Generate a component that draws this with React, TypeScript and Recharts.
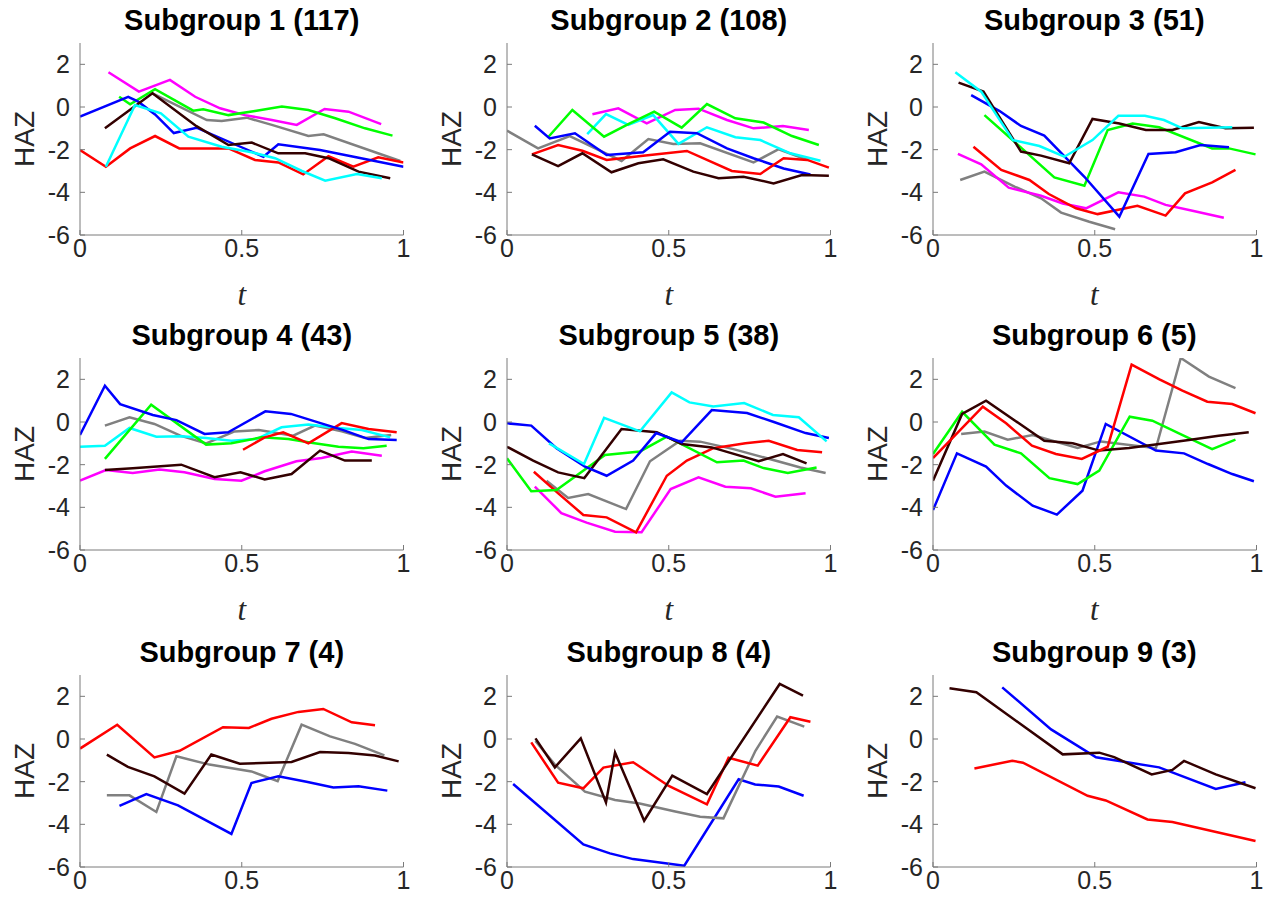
import React from 'react';
import { LineChart, Line, XAxis, YAxis } from 'recharts';

// t grid is 0..1, HAZ range -6..3
const xTicks = [0, 0.5, 1];
const yTicks = [-6, -4, -2, 0, 2];

const titles = [
  'Subgroup 1 (117)', 'Subgroup 2 (108)', 'Subgroup 3 (51)',
  'Subgroup 4 (43)', 'Subgroup 5 (38)', 'Subgroup 6 (5)',
  'Subgroup 7 (4)', 'Subgroup 8 (4)', 'Subgroup 9 (3)',
];

// Subgroup 1
const sg1Red = [[0, -2.02], [0.08, -2.8], [0.155, -1.94], [0.232, -1.36], [0.307, -1.94], [0.459, -1.94], [0.541, -2.48], [0.613, -2.6], [0.69, -3.16], [0.768, -2.31], [0.845, -2.8], [0.922, -2.36], [1.0, -2.6]];
const sg1Magenta = [[0.088, 1.63], [0.182, 0.72], [0.278, 1.27], [0.356, 0.48], [0.433, -0.06], [0.51, -0.38], [0.593, -0.61], [0.67, -0.84], [0.756, -0.09], [0.83, -0.22], [0.931, -0.8]];
const sg1Green = [[0.121, 0.48], [0.155, 0.13], [0.232, 0.84], [0.35, -0.17], [0.381, -0.11], [0.459, -0.38], [0.541, -0.19], [0.624, 0.02], [0.706, -0.14], [0.789, -0.53], [0.881, -1.0], [0.966, -1.34]];
const sg1Gray = [[0.224, 0.64], [0.392, -0.61], [0.438, -0.66], [0.515, -0.5], [0.593, -0.84], [0.706, -1.36], [0.753, -1.28], [0.99, -2.53]];
const sg1Blue = [[0, -0.45], [0.149, 0.48], [0.18, 0.25], [0.232, -0.35], [0.29, -1.22], [0.36, -0.97], [0.567, -2.33], [0.613, -1.75], [0.742, -2.02], [1.0, -2.8]];
const sg1Black = [[0.077, -1.0], [0.224, 0.64], [0.36, -0.9], [0.459, -1.78], [0.531, -1.67], [0.613, -2.17], [0.696, -2.17], [0.768, -2.4], [0.861, -3.03], [0.959, -3.34]];
const sg1Cyan = [[0.08, -2.8], [0.17, 0.09], [0.25, -0.3], [0.335, -1.39], [0.438, -1.86], [0.53, -2.12], [0.603, -2.4], [0.686, -3.0], [0.758, -3.45], [0.856, -3.14], [0.933, -3.34]];

// Subgroup 2
const sg2Gray = [[0, -1.11], [0.096, -1.94], [0.194, -1.36], [0.354, -2.53], [0.437, -1.5], [0.514, -1.73], [0.597, -1.7], [0.762, -2.6], [0.84, -1.98], [0.928, -2.48]];
const sg2Blue = [[0.086, -0.88], [0.132, -1.47], [0.21, -1.23], [0.308, -2.25], [0.421, -2.12], [0.504, -1.16], [0.587, -1.23], [0.68, -1.94], [0.762, -2.4], [0.855, -2.88], [0.938, -3.16]];
const sg2Green = [[0.127, -1.42], [0.202, -0.14], [0.3, -1.39], [0.375, -0.8], [0.455, -0.22], [0.54, -0.97], [0.618, 0.14], [0.706, -0.53], [0.793, -0.73], [0.881, -1.36], [0.964, -1.78]];
const sg2Magenta = [[0.264, -0.34], [0.344, -0.06], [0.432, -0.77], [0.52, -0.14], [0.592, -0.08], [0.68, -0.61], [0.762, -1.0], [0.853, -0.89], [0.933, -1.08]];
const sg2Cyan = [[0.248, -1.27], [0.306, -0.33], [0.375, -0.84], [0.452, -0.38], [0.53, -1.73], [0.618, -0.95], [0.706, -1.42], [0.783, -1.55], [0.876, -2.17], [0.969, -2.52]];
const sg2Red = [[0.077, -2.22], [0.158, -1.78], [0.233, -2.05], [0.308, -2.48], [0.421, -2.28], [0.556, -2.06], [0.695, -3.0], [0.783, -3.14], [0.855, -2.4], [0.928, -2.48], [0.995, -2.84]];
const sg2Black = [[0.077, -2.22], [0.158, -2.77], [0.233, -2.17], [0.323, -3.06], [0.406, -2.64], [0.483, -2.45], [0.576, -3.03], [0.654, -3.34], [0.731, -3.27], [0.824, -3.58], [0.912, -3.19], [0.995, -3.22]];

// Subgroup 3
const sg3Black = [[0.079, 1.14], [0.156, 0.72], [0.272, -2.09], [0.334, -2.28], [0.421, -2.64], [0.493, -0.56], [0.576, -0.77], [0.658, -1.08], [0.74, -1.08], [0.822, -0.7], [0.904, -1.0], [0.992, -0.97]];
const sg3Cyan = [[0.069, 1.63], [0.149, 0.72], [0.247, -1.55], [0.329, -1.83], [0.406, -2.33], [0.493, -1.55], [0.573, -0.41], [0.655, -0.41], [0.714, -0.61], [0.771, -1.0], [0.925, -0.95]];
const sg3Blue = [[0.118, 0.56], [0.206, -0.19], [0.272, -0.89], [0.344, -1.34], [0.468, -3.27], [0.576, -5.14], [0.666, -2.2], [0.75, -2.12], [0.827, -1.78], [0.915, -1.89]];
const sg3Green = [[0.159, -0.38], [0.252, -1.63], [0.375, -3.3], [0.468, -3.69], [0.54, -1.08], [0.617, -0.77], [0.699, -0.95], [0.863, -1.94], [0.915, -1.94], [0.997, -2.22]];
const sg3Red = [[0.125, -1.86], [0.211, -2.95], [0.298, -3.42], [0.358, -4.08], [0.442, -4.75], [0.509, -5.02], [0.632, -4.63], [0.719, -5.09], [0.779, -4.05], [0.863, -3.53], [0.935, -2.95]];
const sg3Magenta = [[0.077, -2.2], [0.149, -2.69], [0.234, -3.78], [0.334, -4.16], [0.401, -4.52], [0.473, -4.75], [0.573, -4.0], [0.653, -4.2], [0.719, -4.59], [0.802, -4.86], [0.899, -5.19]];
const sg3Gray = [[0.084, -3.42], [0.159, -3.03], [0.252, -3.73], [0.334, -4.28], [0.396, -4.95], [0.483, -5.38], [0.563, -5.73]];

// Subgroup 4
const sg4Blue = [[0, -0.61], [0.077, 1.7], [0.124, 0.84], [0.225, 0.33], [0.298, 0.09], [0.385, -0.56], [0.458, -0.48], [0.573, 0.5], [0.652, 0.38], [0.736, -0.02], [0.814, -0.38], [0.892, -0.8], [0.979, -0.84]];
const sg4Gray = [[0.077, -0.17], [0.153, 0.22], [0.23, -0.09], [0.31, -0.64], [0.39, -1.0], [0.478, -0.44], [0.553, -0.38], [0.659, -0.64], [0.726, -0.17], [0.809, -0.44], [0.881, -0.75], [0.962, -0.61]];
const sg4Cyan = [[0, -1.16], [0.077, -1.11], [0.153, -0.28], [0.236, -0.69], [0.313, -0.67], [0.39, -0.75], [0.468, -0.88], [0.545, -0.8], [0.623, -0.25], [0.706, -0.12], [0.799, -0.28], [0.871, -0.38], [0.959, -0.72]];
const sg4Green = [[0.077, -1.73], [0.22, 0.81], [0.39, -1.06], [0.468, -1.0], [0.561, -0.72], [0.644, -0.8], [0.72, -0.98], [0.799, -1.16], [0.876, -1.23], [0.948, -1.11]];
const sg4Red = [[0.504, -1.3], [0.571, -0.72], [0.628, -0.48], [0.706, -1.0], [0.809, -0.05], [0.892, -0.33], [0.979, -0.48]];
const sg4Black = [[0.077, -2.25], [0.163, -2.17], [0.313, -2.0], [0.416, -2.59], [0.496, -2.36], [0.571, -2.69], [0.654, -2.44], [0.742, -1.34], [0.819, -1.81], [0.902, -1.81]];
const sg4Magenta = [[0, -2.75], [0.08, -2.25], [0.163, -2.39], [0.246, -2.23], [0.323, -2.36], [0.416, -2.67], [0.499, -2.75], [0.571, -2.31], [0.669, -1.84], [0.747, -1.69], [0.84, -1.38], [0.933, -1.58]];

// Subgroup 5
const sg5Blue = [[0, -0.06], [0.075, -0.17], [0.153, -1.23], [0.241, -2.09], [0.308, -2.52], [0.39, -1.81], [0.461, -0.52], [0.54, -0.95], [0.633, 0.56], [0.742, 0.42], [0.825, 0.0], [0.923, -0.52], [0.995, -0.75]];
const sg5Cyan = [[0.13, -1.0], [0.238, -1.97], [0.3, 0.19], [0.411, -0.44], [0.509, 1.39], [0.564, 0.92], [0.638, 0.73], [0.733, 0.89], [0.822, 0.33], [0.902, 0.22], [0.988, -0.91]];
const sg5Black = [[0, -1.16], [0.081, -1.81], [0.158, -2.36], [0.239, -2.63], [0.354, -0.33], [0.463, -0.48], [0.54, -1.03], [0.633, -1.19], [0.778, -1.84], [0.853, -1.5], [0.926, -1.94]];
const sg5Green = [[0, -1.7], [0.075, -3.25], [0.153, -3.19], [0.303, -1.55], [0.411, -1.38], [0.494, -0.69], [0.649, -1.89], [0.731, -1.81], [0.793, -2.16], [0.868, -2.39], [0.957, -2.13]];
const sg5Gray = [[0.122, -2.75], [0.189, -3.56], [0.251, -3.38], [0.368, -4.08], [0.442, -1.84], [0.535, -0.88], [0.597, -0.92], [0.7, -1.27], [0.907, -2.13], [0.985, -2.39]];
const sg5Red = [[0.083, -2.33], [0.161, -3.38], [0.236, -4.36], [0.308, -4.47], [0.399, -5.17], [0.494, -2.52], [0.556, -1.81], [0.638, -1.23], [0.737, -1.0], [0.809, -0.88], [0.897, -1.31], [0.974, -1.42]];
const sg5Magenta = [[0.086, -3.03], [0.168, -4.27], [0.246, -4.72], [0.334, -5.14], [0.416, -5.17], [0.506, -3.14], [0.592, -2.59], [0.675, -3.03], [0.754, -3.11], [0.83, -3.5], [0.923, -3.34]];

// Subgroup 6
const sg6Black = [[0, -2.75], [0.09, 0.38], [0.164, 1.0], [0.344, -0.88], [0.432, -1.0], [0.514, -1.34], [0.606, -1.22], [0.699, -1.03], [0.791, -0.84], [0.883, -0.64], [0.976, -0.48]];
const sg6Red = [[0, -1.69], [0.154, 0.72], [0.226, -0.06], [0.306, -1.11], [0.38, -1.5], [0.46, -1.73], [0.54, -1.16], [0.614, 2.69], [0.7, 2.0], [0.771, 1.47], [0.848, 0.95], [0.925, 0.84], [0.997, 0.41]];
const sg6Green = [[0, -1.5], [0.09, 0.48], [0.19, -1.06], [0.272, -1.47], [0.36, -2.63], [0.447, -2.91], [0.514, -2.28], [0.608, 0.25], [0.678, 0.06], [0.77, -0.6], [0.863, -1.27], [0.935, -0.83]];
const sg6Gray = [[0.087, -0.56], [0.159, -0.45], [0.231, -0.83], [0.308, -0.61], [0.447, -1.22], [0.519, -0.91], [0.689, -1.23], [0.766, 3.0], [0.853, 2.13], [0.935, 1.59]];
const sg6Blue = [[0, -4.13], [0.074, -1.47], [0.164, -2.09], [0.226, -2.98], [0.308, -3.92], [0.383, -4.34], [0.462, -3.22], [0.534, -0.09], [0.689, -1.34], [0.776, -1.47], [0.85, -1.97], [0.925, -2.44], [0.992, -2.78]];

// Subgroup 7
const sg7Red = [[0, -0.45], [0.115, 0.67], [0.23, -0.86], [0.308, -0.55], [0.442, 0.55], [0.522, 0.52], [0.592, 0.95], [0.675, 1.27], [0.752, 1.41], [0.84, 0.78], [0.912, 0.64]];
const sg7Gray = [[0.083, -2.64], [0.153, -2.64], [0.236, -3.42], [0.298, -0.81], [0.4, -1.2], [0.53, -1.52], [0.611, -1.98], [0.685, 0.67], [0.773, 0.12], [0.85, -0.23], [0.941, -0.77]];
const sg7Black = [[0.083, -0.73], [0.148, -1.31], [0.23, -1.75], [0.323, -2.56], [0.406, -0.73], [0.494, -1.16], [0.654, -1.08], [0.742, -0.61], [0.83, -0.66], [0.912, -0.77], [0.985, -1.05]];
const sg7Blue = [[0.122, -3.13], [0.205, -2.58], [0.303, -3.11], [0.468, -4.45], [0.53, -2.06], [0.613, -1.75], [0.7, -2.0], [0.783, -2.27], [0.861, -2.22], [0.95, -2.42]];

// Subgroup 8
const sg8Blue = [[0.019, -2.11], [0.236, -4.94], [0.318, -5.36], [0.39, -5.63], [0.548, -5.94], [0.716, -1.89], [0.767, -2.13], [0.84, -2.23], [0.917, -2.66]];
const sg8Black = [[0.088, 0.03], [0.148, -1.33], [0.228, 0.03], [0.306, -2.97], [0.334, -0.64], [0.424, -3.83], [0.511, -1.72], [0.618, -2.58], [0.843, 2.58], [0.915, 2.03]];
const sg8Red = [[0.075, -0.16], [0.158, -2.05], [0.236, -2.31], [0.298, -1.34], [0.39, -1.09], [0.5, -2.2], [0.618, -3.06], [0.685, -0.88], [0.775, -1.25], [0.876, 1.02], [0.938, 0.81]];
const sg8Gray = [[0.088, -0.09], [0.148, -1.2], [0.241, -2.47], [0.334, -2.86], [0.41, -3.02], [0.52, -3.4], [0.597, -3.64], [0.669, -3.72], [0.768, -0.55], [0.835, 1.05], [0.919, 0.58]];

// Subgroup 9
const sg9Black = [[0.051, 2.38], [0.134, 2.19], [0.401, -0.72], [0.514, -0.64], [0.56, -0.85], [0.676, -1.66], [0.74, -1.45], [0.776, -1.03], [0.874, -1.66], [0.997, -2.31]];
const sg9Blue = [[0.214, 2.42], [0.365, 0.45], [0.504, -0.86], [0.699, -1.33], [0.874, -2.34], [0.966, -2.03]];
const sg9Red = [[0.128, -1.38], [0.245, -1.02], [0.278, -1.11], [0.478, -2.66], [0.534, -2.88], [0.663, -3.77], [0.74, -3.89], [0.997, -4.78]];

const COLORS: Record<string, string> = {
  red: '#ff0000',
  blue: '#0000ff',
  green: '#00ff00',
  magenta: '#ff00ff',
  cyan: '#00ffff',
  gray: '#808080',
  black: '#330000',
};

const panelSeries: [number[][], string][][] = [
  [[sg1Gray, 'gray'], [sg1Magenta, 'magenta'], [sg1Green, 'green'], [sg1Red, 'red'], [sg1Blue, 'blue'], [sg1Black, 'black'], [sg1Cyan, 'cyan']],
  [[sg2Gray, 'gray'], [sg2Magenta, 'magenta'], [sg2Cyan, 'cyan'], [sg2Green, 'green'], [sg2Blue, 'blue'], [sg2Red, 'red'], [sg2Black, 'black']],
  [[sg3Gray, 'gray'], [sg3Magenta, 'magenta'], [sg3Red, 'red'], [sg3Green, 'green'], [sg3Blue, 'blue'], [sg3Black, 'black'], [sg3Cyan, 'cyan']],
  [[sg4Gray, 'gray'], [sg4Cyan, 'cyan'], [sg4Green, 'green'], [sg4Red, 'red'], [sg4Blue, 'blue'], [sg4Magenta, 'magenta'], [sg4Black, 'black']],
  [[sg5Gray, 'gray'], [sg5Magenta, 'magenta'], [sg5Red, 'red'], [sg5Green, 'green'], [sg5Black, 'black'], [sg5Blue, 'blue'], [sg5Cyan, 'cyan']],
  [[sg6Gray, 'gray'], [sg6Blue, 'blue'], [sg6Green, 'green'], [sg6Black, 'black'], [sg6Red, 'red']],
  [[sg7Gray, 'gray'], [sg7Blue, 'blue'], [sg7Black, 'black'], [sg7Red, 'red']],
  [[sg8Blue, 'blue'], [sg8Gray, 'gray'], [sg8Red, 'red'], [sg8Black, 'black']],
  [[sg9Red, 'red'], [sg9Blue, 'blue'], [sg9Black, 'black']],
];

// layout of plot boxes in page pixels
const COL_X = [80, 507, 932.5];
const ROW_Y = [43, 358, 675];
const PW = 323.5;
const PH = 192;
const ML = 70;
const AXIS = '#7a7a7a';
const TXT = '#262626';
const SANS = "'Liberation Sans', Arial, Helvetica, sans-serif";

function Panel({ idx }: { idx: number }) {
  const col = idx % 3;
  const row = Math.floor(idx / 3);
  const px = COL_X[col];
  const py = ROW_Y[row];
  const w = ML + PW + 20;
  const h = 10 + PH + 40;
  return (
    <div style={{ position: 'absolute', left: px - ML, top: py - 10, width: w, height: h }}>
      <LineChart width={w} height={h} margin={{ top: 10, right: 20, bottom: 0, left: 0 }}>
        <XAxis
          type="number"
          dataKey="t"
          domain={[0, 1]}
          ticks={xTicks}
          allowDataOverflow
          height={40}
          interval={0}
          tickSize={-5}
          tickMargin={9}
          axisLine={{ stroke: AXIS }}
          tickLine={{ stroke: AXIS }}
          tick={{ fill: TXT, fontSize: 25 }}
        />
        <YAxis
          type="number"
          domain={[-6, 3]}
          ticks={yTicks}
          allowDataOverflow
          width={ML}
          interval={0}
          tickSize={-5}
          tickMargin={15}
          axisLine={{ stroke: AXIS }}
          tickLine={{ stroke: AXIS }}
          tick={{ fill: TXT, fontSize: 25 }}
        />
        {panelSeries[idx].map(([pts, c], i) => (
          <Line
            key={`${idx}-${c}-${i}`}
            data={pts.map(([t, v]) => ({ t, v }))}
            dataKey="v"
            type="linear"
            stroke={COLORS[c]}
            strokeWidth={2.5}
            dot={false}
            activeDot={false}
            isAnimationActive={false}
          />
        ))}
      </LineChart>
    </div>
  );
}

export default function App() {
  return (
    <div style={{ position: 'absolute', left: 0, top: 0, width: 1272, height: 909, background: '#fff', fontFamily: SANS }}>
      {titles.map((_, i) => <Panel key={i} idx={i} />)}
      <svg width={1272} height={909} style={{ position: 'absolute', left: 0, top: 0, pointerEvents: 'none' }}>
        {titles.map((title, i) => {
          const px = COL_X[i % 3];
          const py = ROW_Y[Math.floor(i / 3)];
          const row = Math.floor(i / 3);
          return (
            <g key={title}>
              <text x={px + PW / 2} y={py - 13} textAnchor="middle" fontWeight="bold" fontSize={29} fill="#000" fontFamily={SANS}>
                {title}
              </text>
              <text transform={`translate(${px - 46},${py + PH / 2}) rotate(-90)`} textAnchor="middle" fontSize={28} fill={TXT} fontFamily={SANS}>
                HAZ
              </text>
              {row < 2 && (
                <text x={px + PW / 2} y={py + PH + 70} textAnchor="middle" fontSize={31} fontStyle="italic" fill={TXT} fontFamily="'Liberation Serif', 'Times New Roman', serif">
                  t
                </text>
              )}
            </g>
          );
        })}
      </svg>
    </div>
  );
}
